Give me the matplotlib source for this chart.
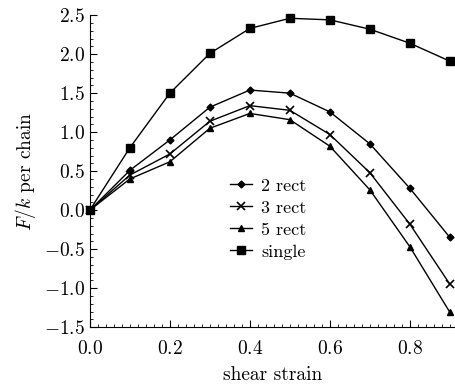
import matplotlib.pyplot as plt
from matplotlib.ticker import MultipleLocator

plt.rcParams['font.family'] = 'serif'
plt.rcParams['font.serif'] = ['cmr10', 'DejaVu Serif']
plt.rcParams['mathtext.fontset'] = 'cm'
plt.rcParams['axes.formatter.use_mathtext'] = True

strain = [0.0, 0.1, 0.2, 0.3, 0.4, 0.5, 0.6, 0.7, 0.8, 0.9]
rect2 = [0.0, 0.51, 0.90, 1.32, 1.54, 1.50, 1.26, 0.85, 0.28, -0.35]
rect3 = [0.0, 0.45, 0.72, 1.14, 1.34, 1.28, 0.97, 0.48, -0.18, -0.95]
rect5 = [0.0, 0.40, 0.62, 1.05, 1.24, 1.16, 0.82, 0.26, -0.47, -1.31]
single = [0.0, 0.80, 1.50, 2.01, 2.33, 2.46, 2.44, 2.32, 2.14, 1.91]

fig = plt.figure(figsize=(4.56, 3.89), dpi=100)
ax = fig.add_axes([0.197, 0.159, 0.801, 0.802])

ax.plot(strain, rect2, 'k-', marker='D', ms=3.5, lw=1, label='2 rect', clip_on=False)
ax.plot(strain, rect3, 'k-', marker='x', ms=6, mew=1.2, lw=1, label='3 rect', clip_on=False)
ax.plot(strain, rect5, 'k-', marker='^', ms=4.5, lw=1, label='5 rect', clip_on=False)
ax.plot(strain, single, 'k-', marker='s', ms=6, lw=1, label='single', clip_on=False)

ax.set_xlim(0, 0.913)
ax.set_ylim(-1.5, 2.5)
ax.xaxis.set_major_locator(MultipleLocator(0.2))
ax.xaxis.set_minor_locator(MultipleLocator(0.02))
ax.yaxis.set_major_locator(MultipleLocator(0.5))
ax.yaxis.set_minor_locator(MultipleLocator(0.1))
ax.xaxis.set_major_formatter(plt.FuncFormatter(lambda v, p: f"${v:.1f}$"))
ax.yaxis.set_major_formatter(plt.FuncFormatter(lambda v, p: f"${v:.1f}$"))

for s in ['top', 'right']:
    ax.spines[s].set_visible(False)
ax.tick_params(direction='in', which='major', length=5, labelsize=14)
ax.tick_params(direction='in', which='minor', length=2.5)
ax.tick_params(axis='x', which='major', pad=9)

ax.set_xlabel('shear strain', fontsize=14, labelpad=6)
ax.set_ylabel(r'$F/k$ per chain', fontsize=14, labelpad=4)

ax.legend(loc='upper left', bbox_to_anchor=(0.34, 0.53), frameon=False,
          fontsize=13, handlelength=1.2, labelspacing=0.35, handletextpad=0.5)

plt.savefig('out.png', dpi=100)
